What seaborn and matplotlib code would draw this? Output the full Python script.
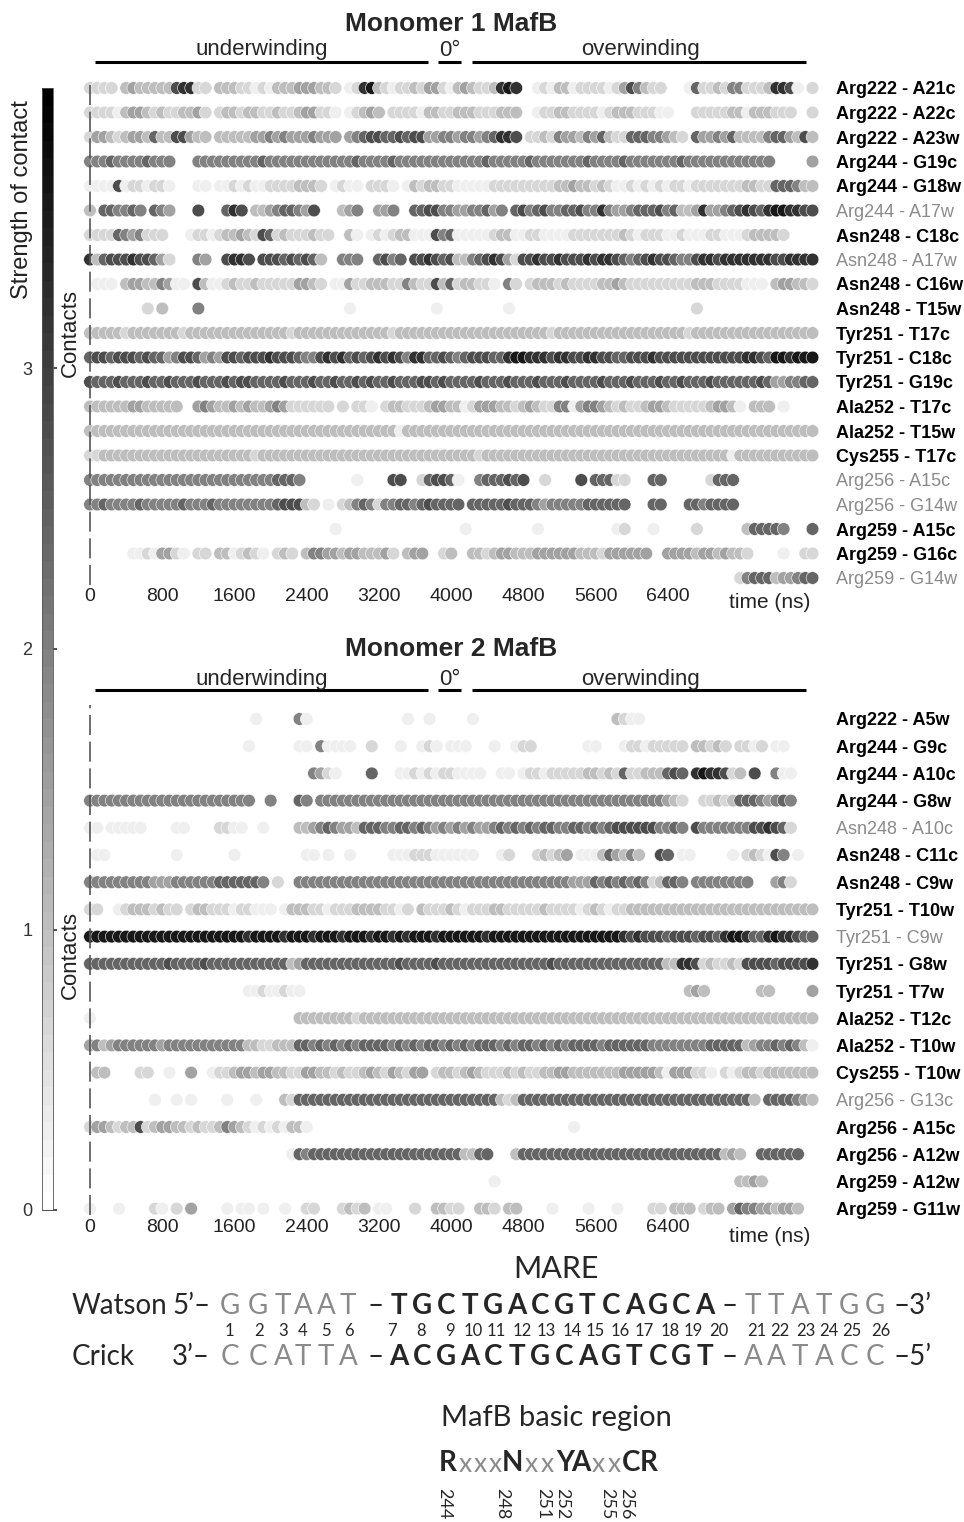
import numpy as np
import pandas as pd
import matplotlib
matplotlib.use("Agg")
import matplotlib.pyplot as plt
from matplotlib.colors import Normalize
from matplotlib.cm import ScalarMappable
from matplotlib.lines import Line2D
import seaborn as sns

# ---------------------------------------------------------------- data
TIME_STEP_NS = 80          # sampling interval of the contact traces
N_POINTS = 101             # 0 .. 8000 ns
# strength represented by each trace level digit (0 = no contact)
level_strength = [0.0, 0.3, 0.65, 1.0, 1.45, 1.95, 2.4, 2.8, 3.2, 3.6]
time_ticks = [0, 800, 1600, 2400, 3200, 4000, 4800, 5600, 6400]
strength_ticks = [0, 1, 2, 3]
strength_range = (0, 4)

m1_title = "Monomer 1 MafB"
m1_labels = ["Arg222 - A21c", "Arg222 - A22c", "Arg222 - A23w", "Arg244 - G19c",
             "Arg244 - G18w", "Arg244 - A17w", "Asn248 - C18c", "Asn248 - A17w",
             "Asn248 - C16w", "Asn248 - T15w", "Tyr251 - T17c", "Tyr251 - C18c",
             "Tyr251 - G19c", "Ala252 - T17c", "Ala252 - T15w", "Cys255 - T17c",
             "Arg256 - A15c", "Arg256 - G14w", "Arg259 - A15c", "Arg259 - G16c",
             "Arg259 - G14w"]
m1_bold = [1, 1, 1, 1, 1, 0, 1, 0, 1, 1, 1, 1, 1, 1, 1, 1, 0, 0, 1, 1, 0]
# one character per frame: '.' = no contact, digit = strength level
m1_traces = [
    "2222.34333 3378822.33 3221213334 44332.1289 3212232442 1343223898 ..12133122 2212475322 ...1622325 522238871.2",
    "2222134432 3223342.23 3233223223 44221.1234 3.22221332 2333222333 ..12233222 2123332221 1...222223 31333222..2",
    "2443234436 3377433.33 3334454544 45444.4567 7667677445 5455456887 .223254435 4632266655 432.644546 33335664373",
    "5556555565 55...55555 5555655555 5555555655 5565555555 5555565555 5655555556 5555655555 5565555555 55555.....4",
    "1111712212 21...11.11 2121122223 332.1211.2 221.132332 2111112222 2222233433 2321121212 1221222222 23322666533",
    "3.665565.6 54...7...6 87.3345665 47...345.. 445..66775 54455645.6 7567556675 5854456667 5633484456 78768998877",
    "2222654522 2...122123 3432762322 2322..31.1 2123311175 6111112331 1221111222 2222321222 1121112211 1233332....",
    "8367778776 42...54..7 887.777676 763..555.. 6756.77876 7335678742 7787787778 7887656787 7655788788 88888778888",
    ".111.34433 5411.73112 3223222224 432.114223 3322532273 6233221.52 .233323222 2334322222 2222333222 2111.344332",
    "........2. 3....5.... .......... ......1... ........1. ........1. .......... .......... ....2..... ...........",
    "3333323333 3332333333 3333333323 3333333333 3323333333 3333333333 3333233333 3333333333 3332333333 33333333333",
    "6776777676 6457764547 7677787776 5578786767 8787588667 6567776689 9888788778 8776677787 7777777777 78876998999",
    "7666766676 6766676667 6776666766 6766766767 6676667767 6666766676 6676667666 6766676667 6676667666 66676445566",
    "3333334433 333..45433 4343345422 2222.2.221 .233222344 3312444332 3432255145 5432322344 3222223443 1.333.1....",
    "3333333333 3333333333 3333333333 3333333333 3331333333 3333333333 3333333333 3333333333 3333333333 33333333333",
    "2233333333 3333333333 3332333333 3333333333 3333333333 3333233333 3333333333 3333333333 3333333331 33333333333",
    "5555555555 5555555555 5555556665 .......1.. ..77..2677 61..566676 7..2....7. 66622...66 ......2666 ...........",
    "5565555655 5556555655 5555556777 32.1.23565 2556656766 66.6666676 6654555556 66666...66 ...6656666 ...........",
    ".......... .......... .......... ....1..... .......... ..1....... ..1....... ...12...1. ....2..... .366665...6",
    "......1121 4421.22.33 12321.232. 3554434433 342.344..2 3..3323443 3344444433 32444444.. 4444344343 32....1..22",
    ".......... .......... .......... .......... .......... .......... .......... .......... .......... 25666344566",
]

m2_title = "Monomer 2 MafB"
m2_labels = ["Arg222 - A5w", "Arg244 - G9c", "Arg244 - A10c", "Arg244 - G8w",
             "Asn248 - A10c", "Asn248 - C11c", "Asn248 - C9w", "Tyr251 - T10w",
             "Tyr251 - C9w", "Tyr251 - G8w", "Tyr251 - T7w", "Ala252 - T12c",
             "Ala252 - T10w", "Cys255 - T10w", "Arg256 - G13c", "Arg256 - A15c",
             "Arg256 - A12w", "Arg259 - A12w", "Arg259 - G11w"]
m2_bold = [1, 1, 1, 1, 0, 1, 1, 1, 0, 1, 1, 1, 1, 1, 0, 1, 1, 1, 1]
m2_traces = [
    ".......... .......... ...1.....5 1......... ....1..1.. ...1...... .......... ...3211... .......... ...........",
    ".......... .......... ..1......1 1.51111..2 ...1..121. 111...1..1 22.......1 1...122122 222.33232. 2212.11....",
    ".......... .......... .......... .5421....6 ...1121212 21111..11. 1221222223 3232622333 676.898872 3.7..511...",
    "5555555555 5555555555 555..5...6 5.55555555 5555555555 5555555555 5555555555 5555555555 432..22323 66654565...",
    "11.11111.. ..11....22 11..1....3 3456544366 6556656545 4545445656 5656655665 6567777775 565.755555 55778762...",
    ".11....... ..1....... 1......... 11.1..1... ..11122211 1111...12. ..23234.11 1364353..7 6.11.....1 .232175.1..",
    "5555555554 4455555566 66665.2..5 5555555555 5555555555 5555555555 5555555444 6565656523 665.555555 55...452...",
    "22..123332 322.233222 122111.133 3221222333 32212.3222 3212223322 2223222212 3212233333 3333333333 33333333333",
    "9999999999 9999999999 9989999899 9899989998 9989899989 9999989999 9999999999 9999878777 6777677689 98668988766",
    "6666666666 6766667666 6666666634 6666666666 6667666676 6666666666 6666766666 6666666666 3388723223 27777677778",
    ".......... .......... ..11211211 .......... .......... .......... .......... .......... ...343.... ...33.....4",
    "1......... .......... .........3 3333333233 3333333333 3333333333 3333333333 3333333333 3333333333 33333333333",
    "4534555555 4555555555 5533223336 6565656566 6656565665 6565666565 6656565666 6566666655 5555556666 63455656531",
    ".33....22. .1..4..122 3443443322 4433232234 3243244.23 3234322232 3223344333 3333444443 1444221.21 23323333333",
    ".........1 ..1.1....1 ...1...326 6666666666 6666666666 6666666323 6666666666 6666666666 6666666666 663.6666543",
    "2443233723 4433232235 4321212133 1......... .......... .......... .......1.. .......... .......... ...........",
    ".......... .......... ........16 5666666666 6666666666 663366...3 6666666666 6666666666 6666666634 3..666666..",
    ".......... .......... .......... .......... .......... ......1... .......... .......... .......... 3343.......",
    "1...1....2 1.2.4....1 .11.1..1.. 22...2323. 11...2..33 22..332.33 ....1....1 ...1....22 .333.233.4 655443443..",
]

winding_labels = ["underwinding", "0°", "overwinding"]

mare_title = "MARE"
watson_flank5, watson_core, watson_flank3 = "GGTAAT", "TGCTGACGTCAGCA", "TTATGG"
crick_flank3, crick_core, crick_flank5 = "CCATTA", "ACGACTGCAGTCGT", "AATACC"
base_numbers = list(range(1, 27))
motif_title = "MafB basic region"
motif = "RxxxNxxYAxxCR"
motif_residues = ["244", "248", "251", "252", "255", "256"]


def traces_to_frame(traces):
    recs = []
    for r, tr in enumerate(traces):
        s = (tr.replace(" ", "") + "." * N_POINTS)[:N_POINTS]
        for i, c in enumerate(s):
            if c != ".":
                recs.append({"time": i * TIME_STEP_NS, "row": r,
                             "strength": level_strength[int(c)]})
    return pd.DataFrame(recs)


# ---------------------------------------------------------------- style
sns.set_theme(style="white")
plt.rcParams["font.family"] = ["Liberation Sans", "DejaVu Sans"]
W, H = 964, 1522
fig = plt.figure(figsize=(W / 100, H / 100), dpi=100)
cmap = plt.get_cmap("gray_r", 64)
norm = Normalize(*strength_range)
SEQ_FONT = ["Lato", "DejaVu Sans"]
GREY = "#8a8a8a"


def fx(x):
    return x / W


def fy(y):
    return 1 - y / H


def rect(l, t, r, b):
    return [l / W, 1 - b / H, (r - l) / W, (b - t) / H]


def ftext(x, y, s, **kw):
    kw.setdefault("ha", "center")
    kw.setdefault("va", "center")
    return fig.text(fx(x), fy(y), s, **kw)


def hline(x1, x2, y, lw=2.2):
    fig.add_artist(Line2D([fx(x1), fx(x2)], [fy(y), fy(y)], color="black",
                          lw=lw, solid_capstyle="butt"))


PX_PER_NS = 72.25 / 800.0
X0_PX = 90


def panel(df, title, labels, bold, top, bottom, first_row_px, row_px, title_y,
          wind_y, line_y, tick_pad, time_y):
    ax = fig.add_axes(rect(82, top, 820, bottom))
    sns.scatterplot(data=df, x="time", y="row", hue="strength", palette=cmap,
                    hue_norm=norm, s=84, edgecolor="white", linewidth=0.4,
                    legend=False, ax=ax, zorder=3)
    ax.set_xlim((82 - X0_PX) / PX_PER_NS, (820 - X0_PX) / PX_PER_NS)
    ymin = -(first_row_px - top) / row_px
    ymax = (bottom - first_row_px) / row_px
    ax.set_ylim(ymax, ymin)
    ax.axvline(0, color="#555555", lw=1.2, ls=(0, (12, 4)), zorder=4)
    ax.set_xticks(time_ticks)
    ax.set_xticklabels([str(t) for t in time_ticks], fontsize=14, color="#222222")
    ax.set_yticks(range(len(labels)))
    ax.set_yticklabels(labels)
    ax.yaxis.tick_right()
    ax.tick_params(axis="y", length=0, pad=11.5)
    ax.tick_params(axis="x", length=0, pad=tick_pad)
    for lab, b in zip(ax.get_yticklabels(), bold):
        lab.set_fontsize(13)
        if b:
            lab.set_fontweight("bold")
            lab.set_color("black")
        else:
            lab.set_fontweight("normal")
            lab.set_color(GREY)
    ax.set_xlabel("")
    ax.set_ylabel("")
    for sp in ax.spines.values():
        sp.set_visible(False)
    ax.set_facecolor("none")
    ax.grid(False)
    ftext(451, title_y, title, fontsize=19, fontweight="bold")
    ftext(262, wind_y, winding_labels[0], fontsize=16)
    ftext(450, wind_y, winding_labels[1], fontsize=16)
    ftext(640, wind_y, winding_labels[2], fontsize=16)
    hline(95, 428, line_y)
    hline(438, 461, line_y)
    hline(472, 806, line_y)
    ftext(770, time_y, "time (ns)", fontsize=15, color="#222222")
    return ax


df1 = traces_to_frame(m1_traces)
df2 = traces_to_frame(m2_traces)

panel(df1, m1_title, m1_labels, m1_bold, top=80, bottom=585, first_row_px=88,
      row_px=24.5, title_y=24, wind_y=50, line_y=62, tick_pad=2, time_y=603)
panel(df2, m2_title, m2_labels, m2_bold, top=705, bottom=1215, first_row_px=719,
      row_px=27.2, title_y=649, wind_y=679, line_y=690, tick_pad=3, time_y=1237)

ftext(70, 333, "Contacts", rotation=90, fontsize=16, color="#222222")
ftext(70, 955, "Contacts", rotation=90, fontsize=16, color="#222222")

# ---------------------------------------------------------------- colour bar
cax = fig.add_axes(rect(42, 88, 53, 1210))
cb = fig.colorbar(ScalarMappable(norm=norm, cmap=cmap), cax=cax)
cb.set_ticks(strength_ticks)
cax.yaxis.set_ticks_position("left")
cax.tick_params(direction="in", length=11, width=1.2, color="#333333",
                labelsize=13, labelcolor="#333333", pad=7)
cb.outline.set_linewidth(0.6)
cb.outline.set_edgecolor("#555555")
ftext(22, 200, "Strength of contact", rotation=90, fontsize=17, color="#222222")

# ---------------------------------------------------------------- MARE sequence
flank5_x = [230, 258, 283, 303, 326, 348]
core_x = np.linspace(399, 705, 14)
flank3_x = [753, 776, 800, 824, 849, 875]
number_x = [229, 259, 283, 303, 326, 349, 392, 421, 450, 473, 496, 522, 546,
            572, 595, 620, 644, 670, 693, 719, 757, 780, 806, 829, 852, 881]

ftext(556, 1269, mare_title, fontsize=22, family=SEQ_FONT)


def strand(y, name, left_end, right_end, fl_a, core, fl_b):
    ftext(72, y, name, ha="left", fontsize=20, family=SEQ_FONT)
    ftext(172, y, left_end, ha="left", fontsize=20, family=SEQ_FONT)
    for x, c in zip(flank5_x, fl_a):
        ftext(x, y, c, fontsize=20, color=GREY, family=SEQ_FONT)
    ftext(376, y, "–", fontsize=20, family=SEQ_FONT)
    for x, c in zip(core_x, core):
        ftext(x, y, c, fontsize=20, fontweight="bold", family=SEQ_FONT)
    ftext(730, y, "–", fontsize=20, family=SEQ_FONT)
    for x, c in zip(flank3_x, fl_b):
        ftext(x, y, c, fontsize=20, color=GREY, family=SEQ_FONT)
    ftext(893, y, right_end, ha="left", fontsize=20, family=SEQ_FONT)


strand(1306, "Watson", "5’–", "–3’", watson_flank5, watson_core, watson_flank3)
for x, n in zip(number_x, base_numbers):
    ftext(x, 1331, str(n), fontsize=12, family=SEQ_FONT)
strand(1357, "Crick", "3’–", "–5’", crick_flank3, crick_core, crick_flank5)

# ---------------------------------------------------------------- basic region motif
ftext(556, 1418, motif_title, fontsize=21, family=SEQ_FONT)
motif_x = [448, 465, 480, 495, 512, 531, 547, 565, 581, 598, 614, 631, 649]
for x, c in zip(motif_x, motif):
    if c == "x":
        ftext(x, 1465, c, fontsize=19, color=GREY, family=SEQ_FONT)
    else:
        ftext(x, 1463, c, fontsize=20, fontweight="bold", family=SEQ_FONT)
res_x = [444, 502, 543, 562, 607, 626]
for x, r in zip(res_x, motif_residues):
    ftext(x, 1488, r, rotation=-90, va="top", fontsize=13, family=SEQ_FONT)

fig.savefig("out.png", dpi=100)
